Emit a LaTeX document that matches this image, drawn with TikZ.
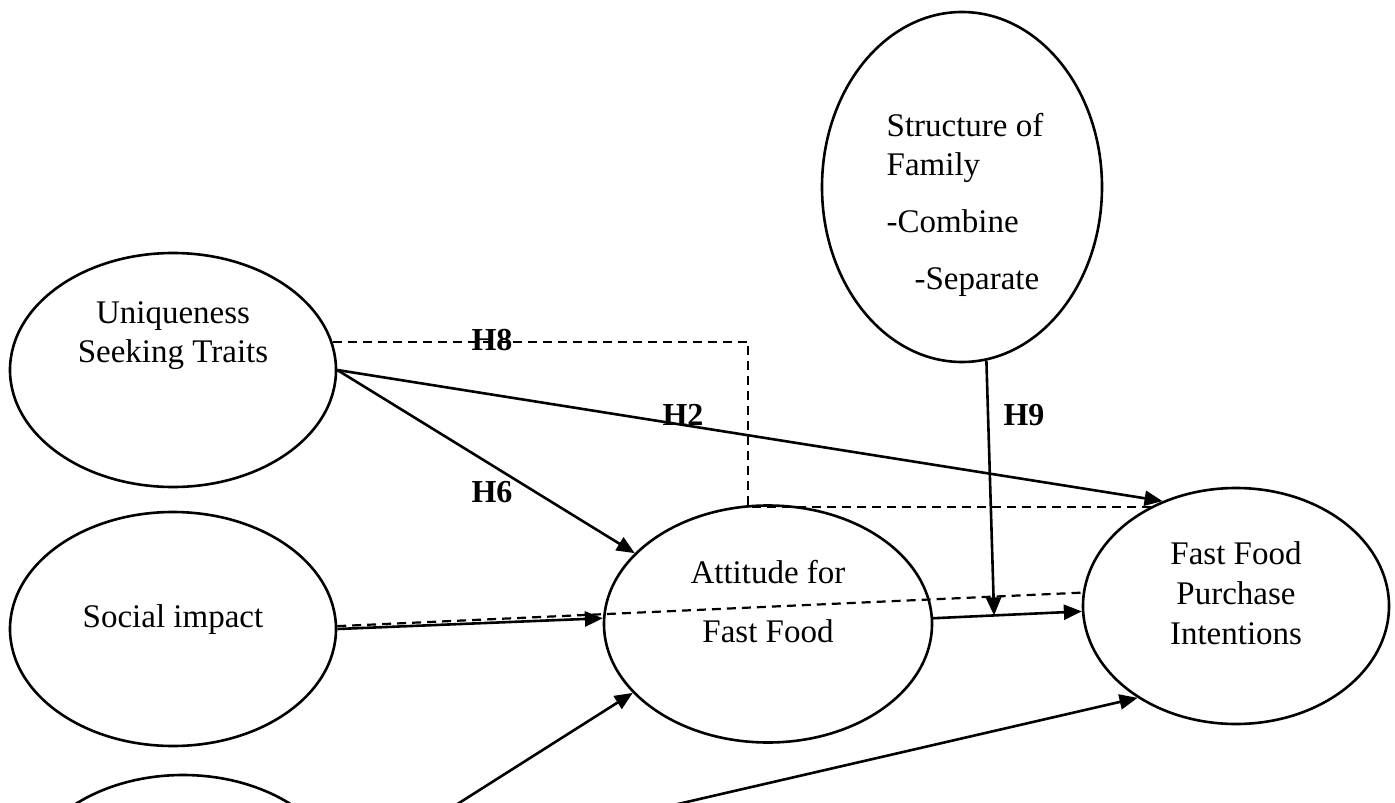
\documentclass[tikz,border=0pt]{standalone}
\usepackage{fontspec}
\setmainfont{Liberation Serif}
\usetikzlibrary{shapes.geometric,arrows.meta}

\begin{document}
\begin{tikzpicture}[
        x=1pt, y=-1pt,
        oval/.style={ellipse, draw, line width=2.6pt, minimum width=326pt, minimum height=234pt, inner sep=0pt},
        txt/.style={font=\fontsize{33}{39}\selectfont, align=center},
        hyp/.style={font=\fontsize{32}{38}\selectfont\bfseries, inner sep=0pt},
        flecha/.style={line width=2.6pt, -{Triangle[length=18pt,width=15pt]}},
        discont/.style={line width=2.2pt, dash pattern=on 9pt off 6pt}
    ]
        \useasboundingbox (0,0) rectangle (1395,803);

        % Constructos del modelo
        \node[oval, label={[txt, yshift=34pt]center:Uniqueness\\Seeking Traits}] (uniq) at (173,370) {};
        \node[oval, label={[txt, yshift=9pt]center:Social impact}] (social) at (173,629) {};
        \node[oval] (lower) at (183,892) {};
        \node[oval, minimum width=328pt, minimum height=237pt,
              label={[txt, yshift=22pt]center:Attitude for\\[20pt]Fast Food}] (att) at (768,624) {};
        \node[oval, minimum width=306pt, minimum height=236pt,
              label={[txt, font=\fontsize{33}{40}\selectfont, yshift=13pt]center:Fast Food\\Purchase\\Intentions}] (purch) at (1236,606) {};
        \node[oval, minimum width=280pt, minimum height=350pt,
              label={[txt, align=left, xshift=3pt, yshift=-18pt]center:{Structure of\\Family\\[18pt]-Combine\\[18pt]\hspace*{28pt}-Separate}}] (struct) at (962,187) {};

        % Hipótesis
        \node[hyp] (h8) at (492,340) {H8};
        \node[hyp] (h2) at (683,415) {H2};
        \node[hyp] (h6) at (492,492) {H6};
        \node[hyp] (h9) at (1024,415) {H9};

        % Relaciones directas
        \draw[flecha] (uniq.east) -- (att.152);
        \draw[flecha] (uniq.east) -- (purch.125);
        \draw[flecha] (social.east) -- (att.178);
        \draw[flecha] (att.2) -- coordinate[pos=0.41] (cruce) (purch.182);
        \draw[flecha] (struct.-82) -- (cruce);
        \draw[flecha] (lower.6) -- (att.207);
        \draw[flecha] (lower.4) -- (purch.223);

        % Efectos moderadores (líneas discontinuas)
        \coordinate (esquina) at (748,507);
        \draw[discont] (uniq.10) -| (esquina) -- (esquina -| purch.128);
        \draw[discont] (social.1) -- (purch.175);
\end{tikzpicture}
\end{document}
